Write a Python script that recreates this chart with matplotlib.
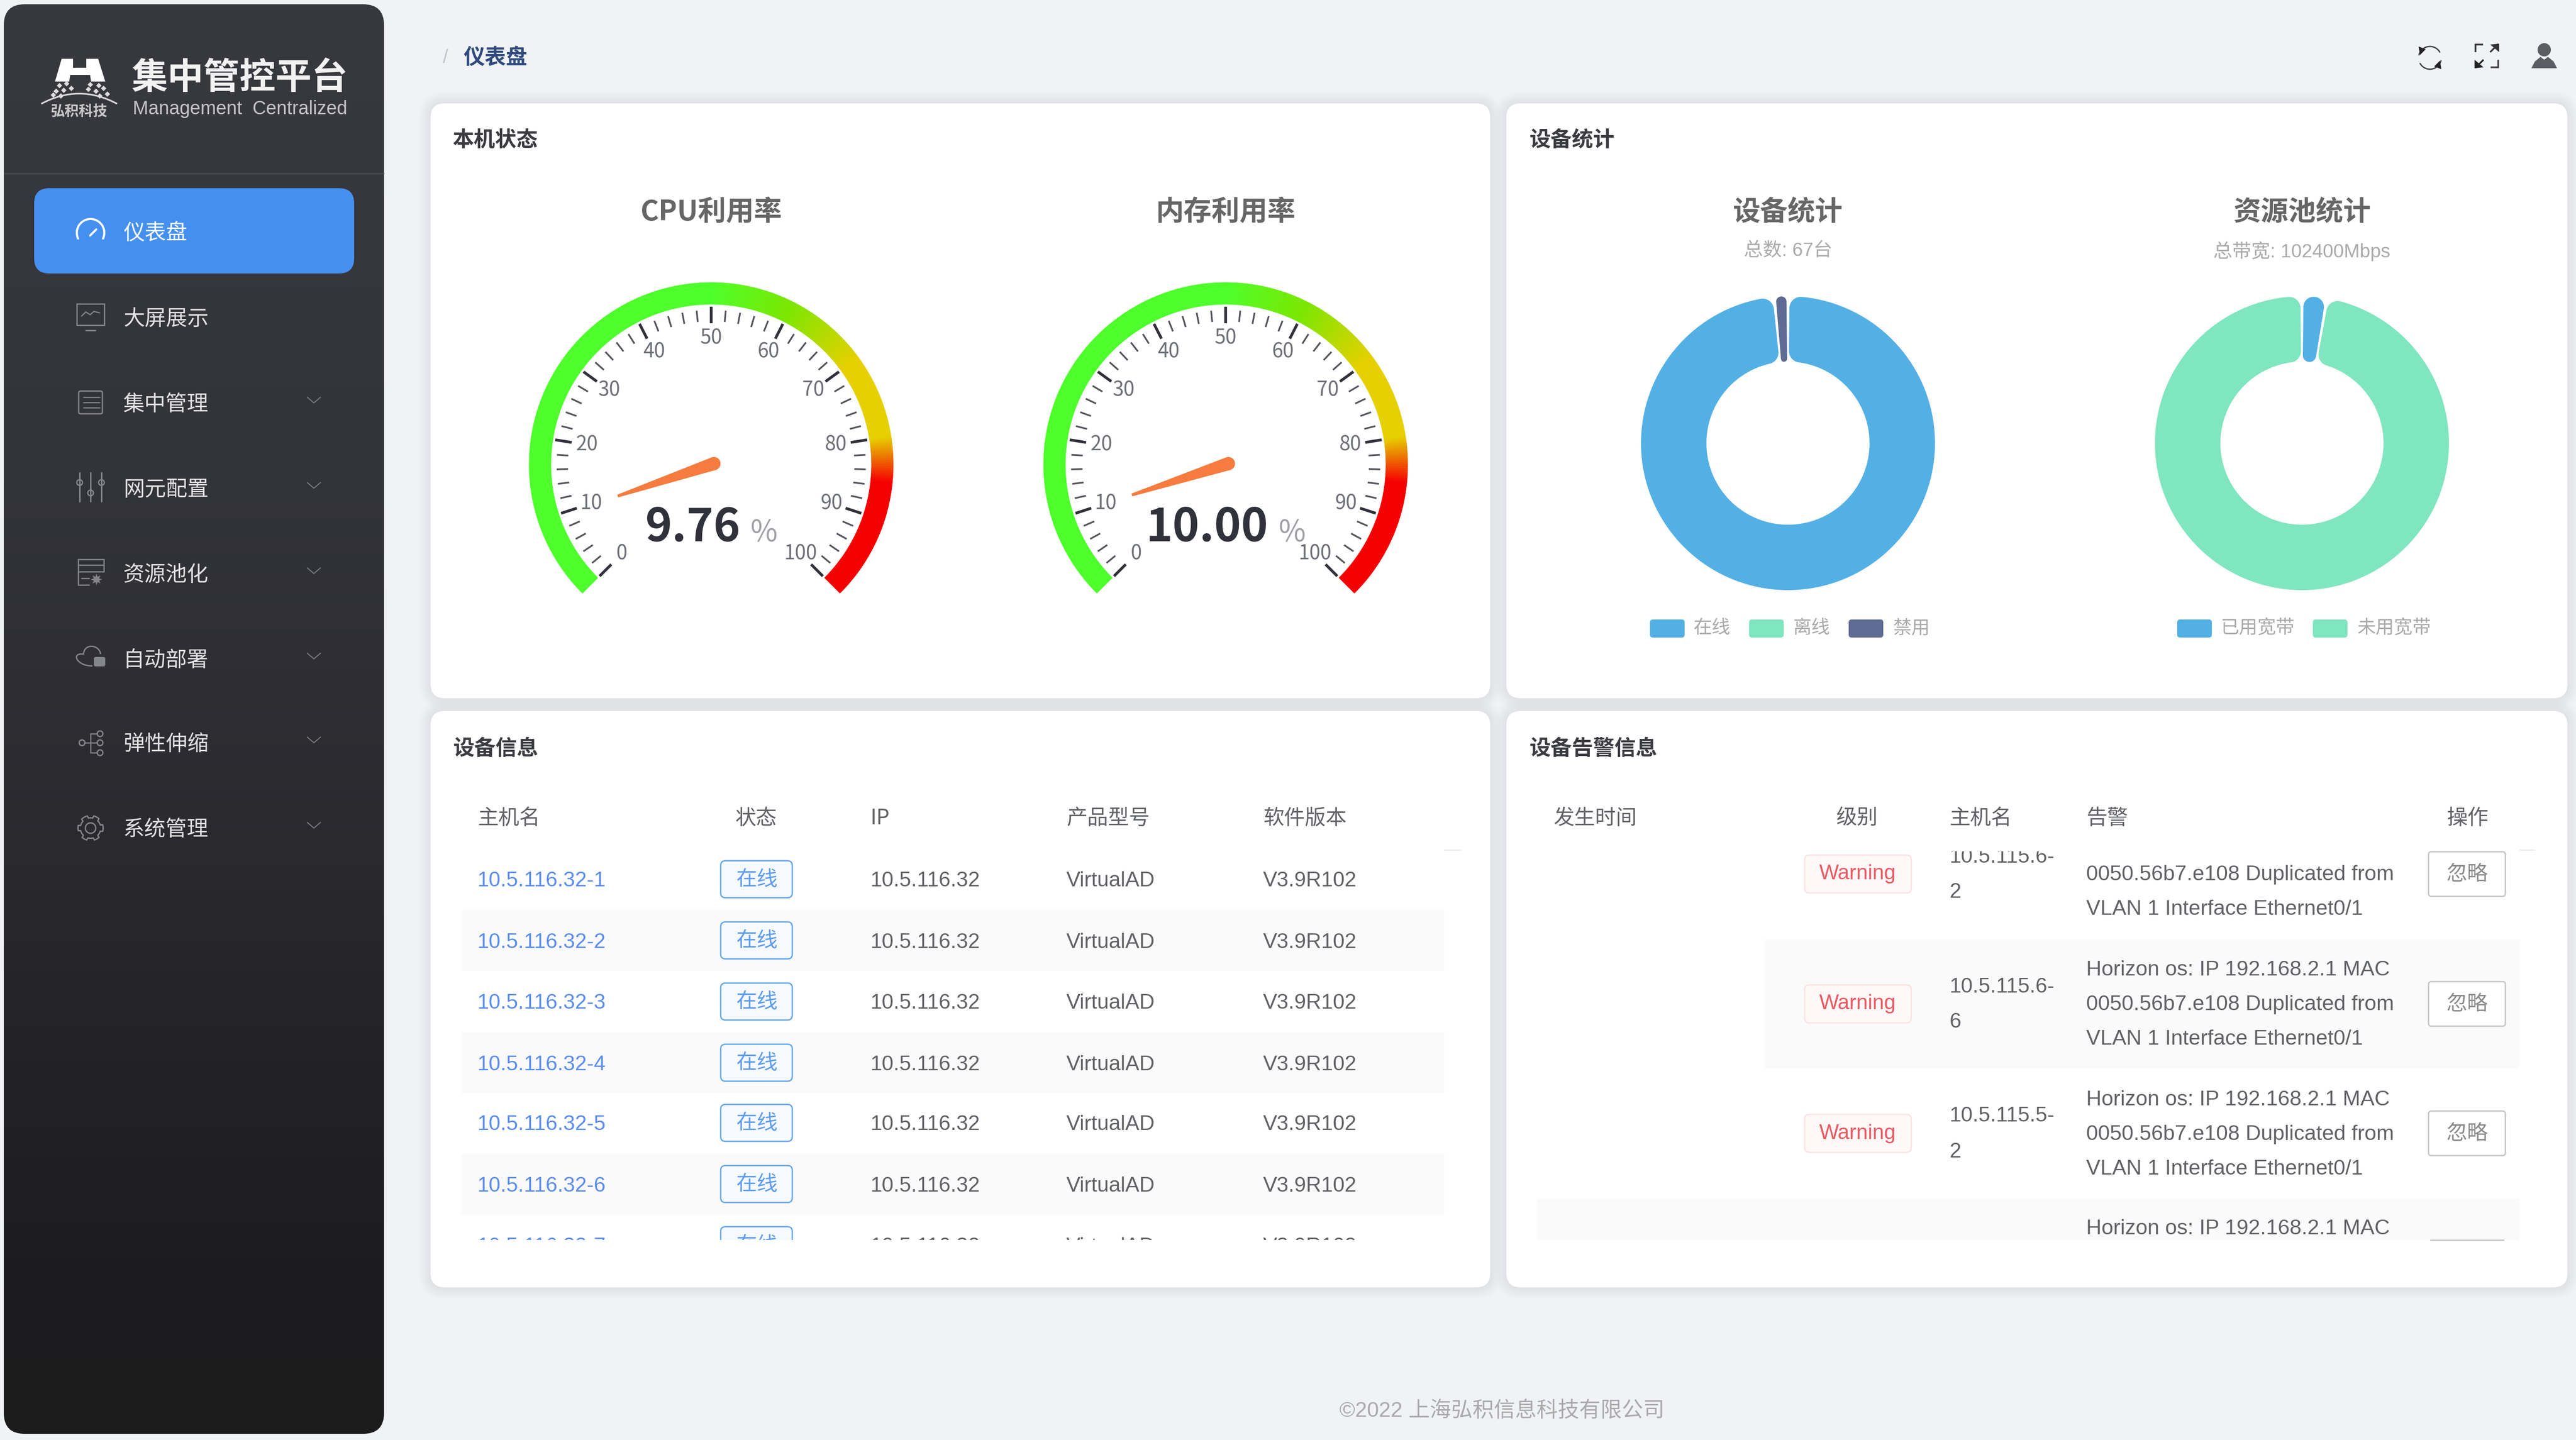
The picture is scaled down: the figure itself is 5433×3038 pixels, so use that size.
"""Painel de controle: recriação com matplotlib."""

import matplotlib

matplotlib.use("Agg")
import matplotlib.pyplot as plt
import numpy as np
from matplotlib.collections import PolyCollection
from matplotlib.colors import LinearSegmentedColormap, to_rgb
from matplotlib.patches import Circle, FancyBboxPatch, Polygon, Rectangle, PathPatch
from matplotlib.path import Path

plt.rcParams["font.family"] = ["Liberation Sans", "Noto Sans CJK SC", "DejaVu Sans"]
CJK = ["Noto Sans CJK SC", "DejaVu Sans"]

W, H = 5433, 3038

# dados
menu_labels = ["仪表盘", "大屏展示", "集中管理", "网元配置", "资源池化", "自动部署", "弹性伸缩", "系统管理"]
gauge_titles = ["CPU利用率", "内存利用率"]
gauge_values = [9.76, 10.00]
gauge_labels = [0, 10, 20, 30, 40, 50, 60, 70, 80, 90, 100]
device_labels = ["在线", "离线", "禁用"]
device_values = [66, 0, 1]
pool_labels = ["已用宽带", "未用宽带"]
pool_values = [2800, 99600]
device_hosts = ["10.5.116.32-1", "10.5.116.32-2", "10.5.116.32-3", "10.5.116.32-4",
                "10.5.116.32-5", "10.5.116.32-6", "10.5.116.32-7"]
device_status = ["在线"] * 7
device_ips = ["10.5.116.32"] * 7
device_models = ["VirtualAD"] * 7
device_versions = ["V3.9R102"] * 7
device_headers = ["主机名", "状态", "IP", "产品型号", "软件版本"]
alarm_headers = ["发生时间", "级别", "主机名", "告警", "操作"]
alarm_hosts = ["10.5.115.6-\n2", "10.5.115.6-\n6", "10.5.115.5-\n2"]
alarm_text = ["Horizon os: IP 192.168.2.1 MAC",
              "0050.56b7.e108 Duplicated from",
              "VLAN 1 Interface Ethernet0/1"]

BLUE, GREEN, PURPLE = "#53b0e5", "#7fe6c0", "#5f6b93"

fig = plt.figure(figsize=(W / 100, H / 100), dpi=100, facecolor="#f0f2f6")
ax = fig.add_axes([0, 0, 1, 1])
ax.axis("off")


def txt(x, y, s, em, color="#606266", ha="left", weight="normal", family=None):
    return ax.text(x, y + 4, s, fontsize=em * 0.72, color=color, ha=ha, va="center",
                   fontweight=weight, family=family if family else plt.rcParams["font.family"],
                   zorder=6)


def box(x0, y0, x1, y1, r, fc="white", ec="none", lw=0, z=2, alpha=None):
    p = FancyBboxPatch((x0, y0), x1 - x0, y1 - y0, boxstyle=f"round,pad=0,rounding_size={r}",
                       fc=fc, ec=ec, lw=lw, zorder=z, alpha=alpha)
    ax.add_patch(p)
    return p


def line(xs, ys, color, lw, z=5, cap="round"):
    ax.plot(xs, ys, color=color, lw=lw, zorder=z, solid_capstyle=cap, solid_joinstyle="miter")


def card(x0, y0, x1, y1):
    for i in range(1, 9):
        box(x0 - i * 3, y0 - i * 3, x1 + i * 3, y1 + i * 3, 30 + i * 3, fc="black", z=1, alpha=0.006)
    box(x0, y0, x1, y1, 30)


def polar(cx, cy, r, deg):
    a = np.radians(deg)
    return cx + r * np.cos(a), cy - r * np.sin(a)


# fundo da barra lateral
side = box(8, 9, 810, 3025, 44, fc="none", z=2)
grad = LinearSegmentedColormap.from_list(
    "side", [(0, "#38383f"), (0.33, "#33333a"), (0.6, "#29292e"), (0.9, "#1c1c1e"), (1, "#1b1b1c")])
im = ax.imshow(np.linspace(0, 1, 256).reshape(-1, 1), cmap=grad, aspect="auto",
               extent=(8, 810, 3025, 9), zorder=2)
im.set_clip_path(side)
ax.set_xlim(0, W)
ax.set_ylim(H, 0)
line([8, 810], [366, 366], "#47484e", 2.5, z=3, cap="butt")

# logo
ax.add_patch(Polygon([(130, 124), (154, 124), (154, 143), (182, 143), (182, 124), (207, 124), (222, 172),
                      (192, 172), (190, 158), (148, 158), (146, 172), (116, 172)], fc="white", zorder=5))
logo_dots = [(125, 180), (140, 176), (190, 178), (208, 180), (118, 192), (134, 190), (150, 186),
             (186, 188), (202, 192), (218, 186), (112, 200), (128, 202), (210, 202), (226, 198)]
ax.scatter(*zip(*logo_dots), s=34, marker="D", color="#dddddd", zorder=5, linewidths=0)
ax.add_patch(PathPatch(Path([(87, 219), (167, 176), (247, 219)], [1, 3, 3]), fc="none", ec="#d8d8d8",
                       lw=2.5, zorder=5))
txt(166, 231, "弘积科技", 30, "#c8c8c8", ha="center", weight="bold", family=CJK)
txt(506, 160, "集中管控平台", 76, "#f2f2f2", ha="center", weight="bold", family=CJK)
txt(506, 226, "Management  Centralized", 39.5, "#c4c4c8", ha="center")

# menu
box(72, 397, 747, 577, 32, fc="#4590ee", z=3)
menu_y = [488, 669, 849, 1029, 1209, 1389, 1566, 1746]
for i, (label, y) in enumerate(zip(menu_labels, menu_y)):
    txt(260, y, label, 45, "white" if i == 0 else "#e2e2e2", family=CJK)
    if i >= 2:
        line([648, 662, 676], [y - 11, y + 1, y - 11], "#77787d", 1.6)

ic = "#85868c"
# ícone: gauge
arc = np.radians(np.linspace(205, -25, 40))
line(191 + 29 * np.cos(arc), 491 - 29 * np.sin(arc), "white", 3.2)
line([190, 203], [497, 484], "white", 3.2)
# ícone: monitor
ax.add_patch(Rectangle((162, 641), 58, 45, fc="none", ec=ic, lw=2, zorder=5))
line([172, 181, 190, 198, 210], [667, 658, 664, 657, 660], ic, 1.8)
line([181, 201], [697, 697], ic, 2.2)
# ícone: lista
ax.add_patch(FancyBboxPatch((166, 825), 50, 48, boxstyle="round,pad=0,rounding_size=4", fc="none", ec=ic,
                            lw=2, zorder=5))
for yy in (838, 849, 860):
    line([176, 210], [yy, yy], ic, 1.8)
# ícone: sliders
for xx, k in ((168, 1018), (191, 1040), (214, 1018)):
    line([xx, xx], [997, 1058], ic, 2.2)
    ax.add_patch(Circle((xx, k), 6, fc="none", ec=ic, lw=2, zorder=5))
# ícone: recurso
ax.add_patch(Rectangle((165, 1180), 54, 26, fc="none", ec=ic, lw=2, zorder=5))
line([165, 219], [1192, 1192], ic, 2)
line([165, 165, 188], [1206, 1234, 1234], ic, 2)
line([172, 188], [1220, 1220], ic, 2)
ax.scatter([203], [1222], s=300, marker=(8, 1, 0), color=ic, zorder=5, linewidths=0)
# ícone: nuvem
ax.add_patch(PathPatch(Path([(195, 1405), (160, 1405), (150, 1376), (176, 1380), (178, 1356), (210, 1360),
                             (212, 1380)], [1, 4, 4, 4, 4, 4, 4]), fc="none", ec=ic, lw=2, zorder=5))
box(198, 1386, 222, 1406, 4, fc=ic, z=5)
# ícone: nós
for xx, yy in ((173, 1567), (211, 1548), (211, 1567), (211, 1588)):
    ax.add_patch(Circle((xx, yy), 6, fc="none", ec=ic, lw=2, zorder=5))
line([179, 205], [1567, 1567], ic, 1.8)
line([191, 191, 205], [1548, 1588, 1588], ic, 1.8)
line([191, 205], [1548, 1548], ic, 1.8)
# ícone: engrenagem
gear_a = np.radians(np.arange(0, 361, 3))
gear_r = 24 + 2.5 * np.sign(np.cos(6 * gear_a))
line(191 + gear_r * np.cos(gear_a), 1747 - gear_r * np.sin(gear_a), ic, 2)
ax.add_patch(Circle((191, 1747), 11, fc="none", ec=ic, lw=2, zorder=5))

# topo
txt(940, 118, "/", 40, "#c0c4cc", ha="center")
txt(977, 118, "仪表盘", 45, "#2f4a7d", weight="bold", family=CJK)
a = np.radians(np.linspace(30, 165, 30))
line(5125 + 24 * np.cos(a), 122 - 24 * np.sin(a), "#3f4046", 2)
line(5125 - 24 * np.cos(a), 122 + 24 * np.sin(a), "#3f4046", 2)
ax.add_patch(Polygon([(5101, 98), (5116, 104), (5104, 116)], fc="#222", zorder=5))
ax.add_patch(Polygon([(5149, 146), (5134, 140), (5146, 128)], fc="#222", zorder=5))
line([5221, 5221, 5237], [110, 94, 94], "#333", 2.6, cap="butt")
line([5269, 5269, 5253], [126, 142, 142], "#444", 2.6, cap="butt")
line([5252, 5269], [110, 93], "#333", 2.6, cap="butt")
line([5238, 5221], [126, 143], "#222", 2.6, cap="butt")
ax.add_patch(Polygon([(5252, 94), (5271, 92), (5271, 110)], fc="#333", zorder=5))
ax.add_patch(Polygon([(5238, 142), (5219, 144), (5219, 126)], fc="#222", zorder=5))
ax.add_patch(Circle((5366, 105), 14, fc="#5c5d64", zorder=5))
ax.add_patch(Polygon([(5339, 144), (5346, 130), (5358, 120), (5366, 126), (5374, 120), (5386, 130), (5393, 144)],
                     fc="#5c5d64", zorder=5))

# cartões
card(908, 218, 3143, 1473)
card(3177, 218, 5415, 1473)
card(908, 1500, 3143, 2716)
card(3177, 1500, 5415, 2716)
for x, y, s in ((955, 292, "本机状态"), (3225, 292, "设备统计"), (955, 1576, "设备信息"), (3225, 1576, "设备告警信息")):
    txt(x, y, s, 45, "#3a3b40", weight="bold", family=CJK)

# gauges
GREEN_G, YELLOW_G, RED_G = "#4dff2b", "#e6d000", "#f50000"
color_stops = [(0, GREEN_G), (50, GREEN_G), (60, "#7ce600"), (70, YELLOW_G), (80, YELLOW_G), (85.5, RED_G),
               (100, RED_G)]
stop_x = [s[0] for s in color_stops]
stop_rgb = np.array([to_rgb(s[1]) for s in color_stops])


def val2deg(v):
    return 225 - 2.7 * v


def draw_gauge(cx, cy, title, value):
    txt(cx, 444, title, 59, "#666666", ha="center", weight="bold", family=CJK)
    vs = np.arange(0, 100, 0.25)
    polys, cols = [], []
    for v in vs:
        d0, d1 = val2deg(v), val2deg(v + 0.25)
        polys.append([polar(cx, cy, 338, d0), polar(cx, cy, 384, d0), polar(cx, cy, 384, d1), polar(cx, cy, 338, d1)])
        cols.append([np.interp(v + 0.125, stop_x, stop_rgb[:, k]) for k in range(3)])
    ax.add_collection(PolyCollection(polys, facecolors=cols, edgecolors=cols, linewidths=0.6, zorder=4))
    for v in np.arange(0, 101, 2):
        major = v % 10 == 0
        r0, r1 = (333, 298) if major else (326, 302)
        x0, y0 = polar(cx, cy, r0, val2deg(v))
        x1, y1 = polar(cx, cy, r1, val2deg(v))
        line([x0, x1], [y0, y1], "#30313a" if major else "#55565e", 4.2 if major else 2.6, cap="butt")
    for v in gauge_labels:
        x, y = polar(cx, cy, 266, val2deg(v))
        txt(x, y - 4, str(v), 42, "#6e7079", ha="center", family=CJK)
    # ponteiro
    d = val2deg(value)
    tx, ty = polar(cx, cy, 208, d)
    bx, by = polar(cx, cy, -6, d)
    n = np.radians(d + 90)
    nx, ny = np.cos(n), -np.sin(n)
    ax.add_patch(Polygon([(bx + 14 * nx, by + 14 * ny), (tx + 3 * nx, ty + 3 * ny),
                          (tx - 3 * nx, ty - 3 * ny), (bx - 14 * nx, by - 14 * ny)],
                         fc="#f57c3e", zorder=5, joinstyle="round"))
    ax.add_patch(Circle((bx, by), 14, fc="#f57c3e", zorder=5))
    # valor e unidade centrados juntos
    vt = txt(cx, 1110, f"{value:.2f}", 96, "#30313a", weight="bold", family=CJK)
    ut = txt(cx, 1120, "%", 62, "#a0a2a8", family=CJK)
    rnd = fig.canvas.get_renderer()
    w0, w1 = vt.get_window_extent(rnd).width, ut.get_window_extent(rnd).width
    left = cx - (w0 + 22 + w1) / 2
    vt.set_x(left)
    ut.set_x(left + w0 + 22)


draw_gauge(1500, 980, gauge_titles[0], gauge_values[0])
draw_gauge(2585, 980, gauge_titles[1], gauge_values[1])


# rosca com cantos arredondados
def rounded_sector(cx, cy, r0, r1, a0, a1, c):
    half = np.radians(a1 - a0) / 2
    s = np.sin(min(half, np.pi / 2))
    c1 = min(c, r1 * s / (1 + s))
    c0 = min(c, r0 * s / (1 - s))
    do = np.degrees(np.arcsin(c1 / (r1 - c1)))
    di = np.degrees(np.arcsin(c0 / (r0 + c0)))
    pts = []

    def ring(r, d0, d1):
        t = np.radians(np.linspace(d0, d1, max(int(abs(d1 - d0) * 2), 3)))
        pts.extend(zip(r * np.cos(t), r * np.sin(t)))

    def corner(rc, dc, d0, d1, cr):
        ctr = np.array([rc * np.cos(np.radians(dc)), rc * np.sin(np.radians(dc))])
        t = np.radians(np.linspace(d0, d1, 14))
        pts.extend(zip(ctr[0] + cr * np.cos(t), ctr[1] + cr * np.sin(t)))

    ring(r1, a0 + do, a1 - do)
    corner(r1 - c1, a1 - do, a1 - do, a1 + 90, c1)
    corner(r0 + c0, a1 - di, a1 + 90, a1 - di + 180, c0)
    ring(r0, a1 - di, a0 + di)
    corner(r0 + c0, a0 + di, a0 + di + 180, a0 + 270, c0)
    corner(r1 - c1, a0 + do, a0 + 270, a0 + do + 360, c1)
    arr = np.array(pts)
    return np.column_stack([cx + arr[:, 0], cy - arr[:, 1]])


def draw_donut(cx, cy, values, colors, title, subtitle):
    txt(cx, 444, title, 58, "#666666", ha="center", weight="bold", family=CJK)
    txt(cx, 526, subtitle, 40, "#aaaaaa", ha="center")
    vals = np.array(values, dtype=float)
    ends = np.cumsum(vals) / vals.sum() * 360
    starts = ends - vals / vals.sum() * 360
    for v, t0, t1, col in zip(vals, starts, ends, colors):
        if v == 0:
            continue
        a0, a1 = 90 - t1 + 0.6, 90 - t0 - 0.6
        ax.add_patch(Polygon(rounded_sector(cx, cy, 172, 310, a0, a1, 24), fc=col, zorder=4))


draw_donut(3771, 935, device_values, [BLUE, GREEN, PURPLE], "设备统计", "总数: 67台")
draw_donut(4855, 935, pool_values, [BLUE, GREEN], "资源池统计", "总带宽: 102400Mbps")

for x0, x1, lab, col in zip((3480, 3689, 3899), (3572, 3782, 3993), device_labels, (BLUE, GREEN, PURPLE)):
    box(x0, 1307, x0 + 73, 1345, 6, fc=col, z=4)
    txt(x1, 1321, lab, 39, "#aaaaaa", family=CJK)
for x0, x1, lab, col in zip((4592, 4878), (4683, 4972), pool_labels, (BLUE, GREEN)):
    box(x0, 1307, x0 + 73, 1345, 6, fc=col, z=4)
    txt(x1, 1321, lab, 39, "#aaaaaa", family=CJK)

# tabela de dispositivos
CLIP_T, CLIP_B = 1796, 2616
for x, s in zip((1007, 1551, 1836, 2249, 2664), device_headers):
    txt(x, 1722, s, 44, "#606266", family=CJK)
line([3046, 3080], [1793, 1793], "#eeeeee", 2, z=3)
row_y = [1855, 1984, 2113, 2242, 2369, 2498, 2627]
for i, y in enumerate(row_y):
    if i % 2 == 1:
        ax.add_patch(Rectangle((973, y - 64), 2073, 128, fc="#fafafa", ec="none", zorder=3))
    box(1520, y - 39, 1671, y + 39, 10, fc="#f6faff", ec="#62a5ee", lw=2, z=4)
    txt(1596, y - 4, device_status[i], 44, "#5e9cf0", ha="center", family=CJK)
    txt(1007, y, device_hosts[i], 44.5, "#5b8def")
    txt(1836, y, device_ips[i], 44.5)
    txt(2249, y, device_models[i], 44.5)
    txt(2664, y, device_versions[i], 44.5)

# tabela de alarmes
for x, s in zip((3277, 3873, 4112, 4400, 5160), alarm_headers):
    txt(x, 1722, s, 44, "#606266", family=CJK)
line([5314, 5345], [1793, 1793], "#eeeeee", 2, z=3)
ax.add_patch(Rectangle((3722, 1982), 1592, 272, fc="#fafafa", ec="none", zorder=3))
ax.add_patch(Rectangle((3242, 2529), 2072, 87, fc="#fafafa", ec="none", zorder=3))
alarm_row_y = [1844, 2118, 2391, 2664]
for i, y in enumerate(alarm_row_y):
    if i < 3:
        box(3806, y - 40, 4031, y + 40, 10, fc="#fff8f8", ec="#fde2e2", lw=2, z=4)
        txt(3918, y - 4, "Warning", 44, "#ea5a62", ha="center")
        host_a, host_b = alarm_hosts[i].split("\n")
        txt(4112, y - 40, host_a, 44.5)
        txt(4112, y + 35, host_b, 44.5)
        box(5122, y - 47, 5284, y + 47, 6, fc="white", ec="#c4c4c4", lw=2, z=4)
        txt(5203, y - 4, "忽略", 44, "#8a8a8a", ha="center", family=CJK)
    for k, s in enumerate(alarm_text):
        ly = y - 2 + (k - 1) * 73
        if CLIP_T < ly < CLIP_B:
            txt(4400, ly, s, 44.8)

# máscaras da área rolável
ax.add_patch(Rectangle((960, CLIP_B), 2150, 80, fc="white", ec="none", zorder=7))
ax.add_patch(Rectangle((3240, 1752), 1880, CLIP_T - 1752, fc="white", ec="none", zorder=7))
line([5125, 5281], [2616, 2616], "#c4c4c4", 2, z=8, cap="butt")

# rodapé
txt(3168, 2973, "©2022 上海弘积信息科技有限公司", 45, "#aaaaaa", ha="center")

fig.savefig("out.png", dpi=100, facecolor=fig.get_facecolor())
